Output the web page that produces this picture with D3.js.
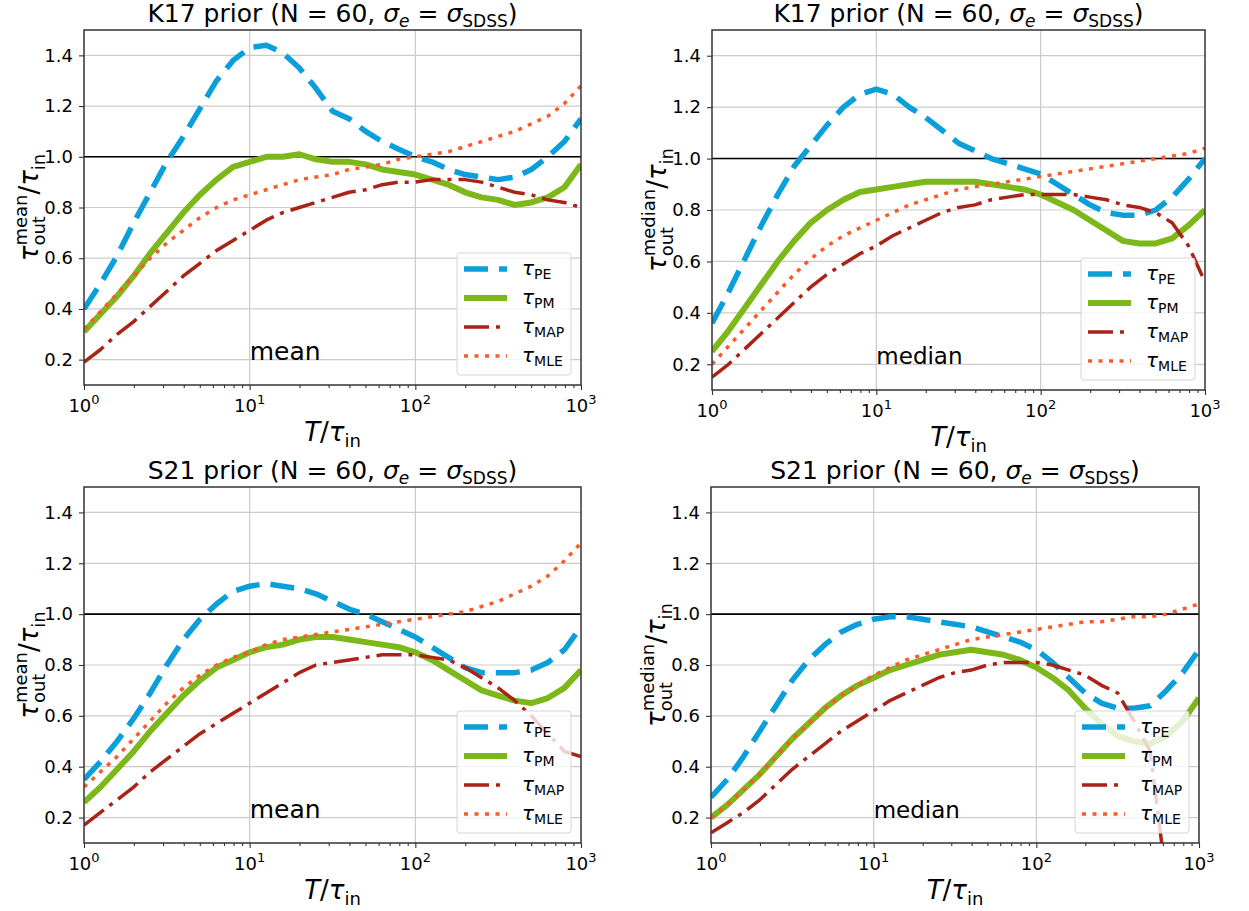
<!DOCTYPE html>
<html>
<head>
<meta charset="utf-8">
<script src="https://cdn.jsdelivr.net/npm/d3@7"></script>
<style>
body{margin:0;background:#fff;}
svg{font-family:"DejaVu Sans",sans-serif;}
</style>
</head>
<body>
<svg width="1249" height="911"></svg>
<script>
// T / tau_in sample points (0.1 dex steps)
const T = [1, 1.259, 1.585, 1.995, 2.512, 3.162, 3.981, 5.012, 6.310, 7.943,
  10, 12.59, 15.85, 19.95, 25.12, 31.62, 39.81, 50.12, 63.10, 79.43,
  100, 125.9, 158.5, 199.5, 251.2, 316.2, 398.1, 501.2, 631.0, 794.3, 1000];

// K17 prior, mean
const k17MeanPE  = [0.40,0.50,0.61,0.74,0.86,0.98,1.08,1.19,1.30,1.38,1.43,1.44,1.41,1.35,1.27,1.18,1.15,1.10,1.06,1.03,1.00,0.98,0.95,0.93,0.92,0.91,0.92,0.95,1.00,1.06,1.15];
const k17MeanPM  = [0.31,0.38,0.45,0.53,0.62,0.70,0.78,0.85,0.91,0.96,0.98,1.00,1.00,1.01,0.99,0.98,0.98,0.97,0.95,0.94,0.93,0.91,0.89,0.86,0.84,0.83,0.81,0.82,0.84,0.88,0.97];
const k17MeanMAP = [0.19,0.24,0.30,0.35,0.41,0.47,0.53,0.58,0.63,0.67,0.71,0.75,0.78,0.80,0.82,0.84,0.86,0.87,0.89,0.90,0.90,0.91,0.91,0.91,0.90,0.88,0.86,0.85,0.83,0.82,0.80];
const k17MeanMLE = [0.32,0.39,0.46,0.53,0.60,0.66,0.71,0.76,0.80,0.83,0.85,0.87,0.89,0.91,0.92,0.93,0.95,0.96,0.97,0.99,1.00,1.01,1.02,1.04,1.06,1.08,1.10,1.13,1.16,1.21,1.28];

// K17 prior, median
const k17MedPE  = [0.36,0.48,0.61,0.74,0.86,0.97,1.05,1.13,1.20,1.25,1.27,1.25,1.20,1.16,1.11,1.06,1.03,1.00,0.98,0.96,0.94,0.90,0.86,0.82,0.79,0.78,0.78,0.80,0.85,0.92,1.00];
const k17MedPM  = [0.25,0.33,0.42,0.51,0.60,0.68,0.75,0.80,0.84,0.87,0.88,0.89,0.90,0.91,0.91,0.91,0.91,0.90,0.89,0.88,0.86,0.83,0.80,0.76,0.72,0.68,0.67,0.67,0.69,0.74,0.80];
const k17MedMAP = [0.15,0.20,0.26,0.32,0.38,0.44,0.50,0.55,0.59,0.63,0.66,0.70,0.73,0.76,0.79,0.81,0.82,0.84,0.85,0.86,0.86,0.86,0.86,0.85,0.84,0.82,0.81,0.79,0.75,0.66,0.52];
const k17MedMLE = [0.20,0.27,0.34,0.41,0.48,0.55,0.61,0.66,0.70,0.73,0.76,0.79,0.82,0.84,0.86,0.88,0.89,0.90,0.91,0.92,0.93,0.94,0.95,0.96,0.97,0.98,0.99,1.00,1.01,1.02,1.04];

// S21 prior, mean
const s21MeanPE  = [0.35,0.42,0.50,0.59,0.69,0.80,0.90,0.98,1.04,1.09,1.11,1.12,1.11,1.10,1.08,1.05,1.02,1.00,0.97,0.94,0.91,0.87,0.83,0.79,0.77,0.77,0.77,0.78,0.81,0.86,0.95];
const s21MeanPM  = [0.26,0.32,0.39,0.46,0.54,0.61,0.68,0.74,0.79,0.82,0.85,0.87,0.88,0.90,0.91,0.91,0.90,0.89,0.88,0.87,0.85,0.82,0.78,0.74,0.70,0.68,0.66,0.65,0.67,0.71,0.78];
const s21MeanMAP = [0.17,0.22,0.27,0.32,0.38,0.43,0.48,0.53,0.57,0.61,0.65,0.69,0.73,0.77,0.80,0.81,0.82,0.83,0.84,0.84,0.84,0.83,0.82,0.79,0.75,0.71,0.66,0.60,0.53,0.46,0.44];
const s21MeanMLE = [0.32,0.38,0.44,0.51,0.58,0.65,0.71,0.76,0.80,0.83,0.85,0.88,0.90,0.91,0.92,0.93,0.94,0.95,0.96,0.97,0.98,0.99,1.00,1.01,1.03,1.05,1.08,1.11,1.15,1.21,1.28];

// S21 prior, median
const s21MedPE  = [0.28,0.35,0.44,0.54,0.64,0.74,0.82,0.88,0.93,0.96,0.98,0.99,0.99,0.98,0.97,0.96,0.95,0.93,0.91,0.89,0.86,0.81,0.75,0.69,0.65,0.63,0.63,0.64,0.70,0.77,0.86];
const s21MedPM  = [0.20,0.25,0.31,0.37,0.44,0.51,0.57,0.63,0.68,0.72,0.75,0.78,0.80,0.82,0.84,0.85,0.86,0.85,0.84,0.82,0.79,0.75,0.70,0.63,0.57,0.52,0.50,0.49,0.52,0.58,0.67];
const s21MedMAP = [0.14,0.18,0.22,0.27,0.33,0.39,0.44,0.49,0.54,0.58,0.62,0.66,0.69,0.72,0.75,0.77,0.78,0.80,0.81,0.81,0.81,0.80,0.78,0.76,0.72,0.69,0.58,0.46,-0.05];
const s21MedMLE = [0.20,0.25,0.31,0.37,0.44,0.51,0.57,0.63,0.68,0.72,0.76,0.79,0.82,0.84,0.86,0.88,0.90,0.91,0.92,0.93,0.94,0.95,0.96,0.97,0.97,0.98,0.99,0.99,1.00,1.02,1.04];

const seriesNames = ["PE","PM","MAP","MLE"];
const yTicks = [0.2,0.4,0.6,0.8,1.0,1.2,1.4];
const xTicks = [1,10,100,1000];

const colors = {PE:"#0a9fda", PM:"#7db81b", MAP:"#ab2217", MLE:"#fc5a2b"};
const styles = {
  PE:{w:5.5, dash:"24,11"},
  PM:{w:6, dash:null},
  MAP:{w:3.5, dash:"25,7,4,7"},
  MLE:{w:3.5, dash:"4,6.5"}
};

const panels = [
  {prior:"K17", stat:"mean",   statSize:25, x0:84,  x1:581,  y0:30,  y1:385, data:[k17MeanPE,k17MeanPM,k17MeanMAP,k17MeanMLE]},
  {prior:"K17", stat:"median", statSize:23, x0:712, x1:1205, y0:30,  y1:390, data:[k17MedPE,k17MedPM,k17MedMAP,k17MedMLE]},
  {prior:"S21", stat:"mean",   statSize:25, x0:84,  x1:581,  y0:487, y1:843, data:[s21MeanPE,s21MeanPM,s21MeanMAP,s21MeanMLE]},
  {prior:"S21", stat:"median", statSize:23, x0:711, x1:1199, y0:487, y1:843, data:[s21MedPE,s21MedPM,s21MedMAP,s21MedMLE]}
];

const svg = d3.select("svg");

// write a run of text pieces (super/subscripts) and return its width
function mathText(g, parts) {
  let cx = 0, lastStart = 0;
  parts.forEach(p => {
    const sx = p.stack ? lastStart : cx;
    const t = g.append("text")
      .attr("x", sx).attr("y", p.dy || 0)
      .attr("font-size", p.size)
      .attr("font-style", p.italic ? "italic" : "normal")
      .attr("fill", "#000")
      .text(p.t);
    const w = t.node().getComputedTextLength();
    if (p.stack) cx = Math.max(cx, sx + w);
    else { lastStart = sx; cx = sx + w; }
  });
  return cx;
}

panels.forEach((p, pi) => {
  const x = d3.scaleLog().domain([1,1000]).range([p.x0, p.x1]);
  const y = d3.scaleLinear().domain([0.1,1.5]).range([p.y1, p.y0]);
  const g = svg.append("g");

  const clipId = "clip" + pi;
  svg.append("clipPath").attr("id", clipId)
    .append("rect").attr("x", p.x0).attr("y", p.y0)
    .attr("width", p.x1 - p.x0).attr("height", p.y1 - p.y0);

  // grid
  g.selectAll(".gy").data(yTicks).enter().append("line")
    .attr("x1", p.x0).attr("x2", p.x1)
    .attr("y1", d => y(d)).attr("y2", d => y(d))
    .attr("stroke", "#cbcbcb").attr("stroke-width", 1.2);
  g.selectAll(".gx").data([10,100]).enter().append("line")
    .attr("x1", d => x(d)).attr("x2", d => x(d))
    .attr("y1", p.y0).attr("y2", p.y1)
    .attr("stroke", "#cbcbcb").attr("stroke-width", 1.2);

  // unity line
  g.append("line")
    .attr("x1", p.x0).attr("x2", p.x1)
    .attr("y1", y(1)).attr("y2", y(1))
    .attr("stroke", "#000").attr("stroke-width", 1.6);

  // curves
  const line = d3.line().x((d,i) => x(T[i])).y(d => y(d));
  const cg = g.append("g").attr("clip-path", "url(#" + clipId + ")");
  p.data.forEach((arr, si) => {
    const nm = seriesNames[si];
    cg.append("path").datum(arr)
      .attr("d", line)
      .attr("fill", "none")
      .attr("stroke", colors[nm])
      .attr("stroke-width", styles[nm].w)
      .attr("stroke-dasharray", styles[nm].dash)
      .attr("stroke-linejoin", "round");
  });

  // axes
  const minor = [];
  [1,10,100].forEach(b => { for (let m = 2; m <= 9; m++) minor.push(b*m); });
  const xMinor = g.append("g").attr("transform", `translate(0,${p.y1})`)
    .call(d3.axisBottom(x).tickValues(minor).tickSize(3).tickFormat(""));
  const xAxis = g.append("g").attr("transform", `translate(0,${p.y1})`)
    .call(d3.axisBottom(x).tickValues(xTicks).tickSize(5).tickFormat(""));
  const yAxis = g.append("g").attr("transform", `translate(${p.x0},0)`)
    .call(d3.axisLeft(y).tickValues(yTicks).tickSize(5).tickPadding(6).tickFormat(d3.format(".1f")));
  [xMinor, xAxis, yAxis].forEach(a => {
    a.select(".domain").remove();
    a.selectAll("line").attr("stroke", "#333").attr("stroke-width", 1.1);
  });
  yAxis.selectAll("text").attr("font-size", 18).attr("fill", "#000")
    .attr("font-family", "DejaVu Sans");

  // x tick labels 10^n
  xTicks.forEach((v, i) => {
    const t = g.append("text")
      .attr("x", x(v)).attr("y", p.y1 + 27)
      .attr("text-anchor", "middle")
      .attr("font-size", 18).attr("fill", "#000");
    t.append("tspan").text("10");
    t.append("tspan").attr("dy", -8).attr("font-size", 13).text(i);
  });

  // frame
  g.append("rect")
    .attr("x", p.x0).attr("y", p.y0)
    .attr("width", p.x1 - p.x0).attr("height", p.y1 - p.y0)
    .attr("fill", "none").attr("stroke", "#333").attr("stroke-width", 1.5);

  // stat label in data coords
  g.append("text")
    .attr("x", x(10)).attr("y", y(0.2))
    .attr("font-size", p.statSize).attr("fill", "#000")
    .text(p.stat);

  // legend
  const lw = 114, lh = 122;
  const bx = p.x1 - 10 - lw, by = p.y1 - 10 - lh;
  const lg = g.append("g");
  lg.append("rect").attr("x", bx).attr("y", by)
    .attr("width", lw).attr("height", lh).attr("rx", 3)
    .attr("fill", "#fff").attr("fill-opacity", 0.8)
    .attr("stroke", "#d6d6d6").attr("stroke-width", 1);
  seriesNames.forEach((nm, i) => {
    const ry = by + 16 + i * 29;
    lg.append("line")
      .attr("x1", bx + 7).attr("x2", bx + 50)
      .attr("y1", ry).attr("y2", ry)
      .attr("stroke", colors[nm]).attr("stroke-width", styles[nm].w)
      .attr("stroke-dasharray", styles[nm].dash);
    const tg = lg.append("g").attr("transform", `translate(${bx + 65},${ry + 6})`);
    mathText(tg, [{t:"τ", size:20, italic:true}, {t:nm, size:14, dy:4}]);
  });

  // title
  const cx = (p.x0 + p.x1) / 2;
  const title = g.append("text")
    .attr("x", cx).attr("y", p.y0 - 8)
    .attr("text-anchor", "middle")
    .attr("font-size", 25).attr("fill", "#000");
  title.append("tspan").text(p.prior + " prior (N = 60, ");
  title.append("tspan").attr("font-style", "italic").text("σ");
  title.append("tspan").attr("font-style", "italic").attr("font-size", 17).attr("dy", 5).text("e");
  title.append("tspan").attr("dy", -5).text(" = ");
  title.append("tspan").attr("font-style", "italic").text("σ");
  title.append("tspan").attr("font-size", 17).attr("dy", 5).text("SDSS");
  title.append("tspan").attr("dy", -5).text(")");

  // x label
  const xl = g.append("g");
  const xw = mathText(xl, [
    {t:"T", size:26, italic:true}, {t:"/", size:26},
    {t:"τ", size:26, italic:true}, {t:"in", size:18, dy:6}]);
  xl.attr("transform", `translate(${cx - xw/2},${p.y1 + 56})`);

  // y label (rotated)
  const yl = g.append("g");
  const yw = mathText(yl, [
    {t:"τ", size:26, italic:true},
    {t:p.stat, size:18, dy:-11},
    {t:"out", size:18, dy:7, stack:true},
    {t:"/", size:26},
    {t:"τ", size:26, italic:true},
    {t:"in", size:18, dy:7}]);
  const cy = (p.y0 + p.y1) / 2;
  yl.attr("transform", `translate(${p.x0 - 46},${cy + yw/2}) rotate(-90)`);
});
</script>
</body>
</html>
